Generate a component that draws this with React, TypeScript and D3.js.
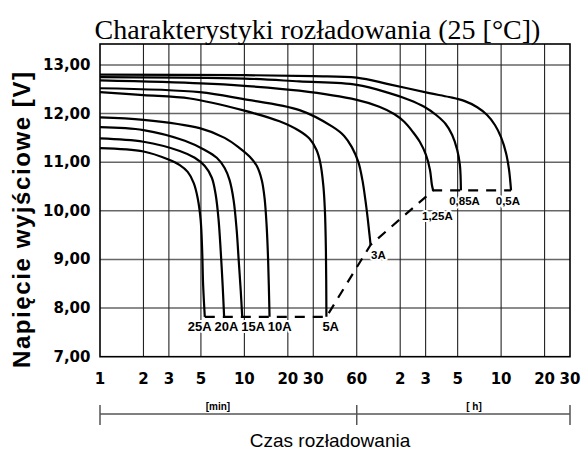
import * as d3 from 'd3'
import React from 'react'

// discharge curves: [time in minutes, voltage]
const currents = ['0,5A', '0,85A', '1,25A', '3A', '5A', '10A', '15A', '20A', '25A']

const c05 = [[1, 12.8], [10, 12.79], [30, 12.77], [60, 12.74], [101, 12.6], [191, 12.42], [262, 12.34], [333, 12.26], [410, 12.13], [480, 11.97], [545, 11.76], [600, 11.51], [650, 11.18], [681, 10.84], [703, 10.42]]
const c085 = [[1, 12.75], [10, 12.72], [24, 12.66], [60, 12.59], [101, 12.42], [139, 12.28], [176, 12.14], [213, 11.97], [247, 11.79], [275, 11.56], [298, 11.25], [311, 10.94], [316, 10.42]]
const c125 = [[1, 12.68], [5, 12.62], [10, 12.57], [24, 12.47], [60, 12.28], [86, 12.14], [109, 11.99], [128, 11.83], [147, 11.62], [164, 11.42], [181, 11.15], [193, 10.84], [199, 10.53], [203, 10.42]]
const c3 = [[1, 12.52], [4.9, 12.44], [9.7, 12.3], [24.1, 12.07], [40.7, 11.73], [49.1, 11.54], [55.5, 11.31], [61.6, 11.0], [65.7, 10.63], [68.9, 10.22], [71.7, 9.81], [73.6, 9.5], [74.8, 9.3]]
const c5 = [[1, 12.44], [2, 12.38], [4.2, 12.31], [9.7, 12.07], [17.5, 11.84], [24.1, 11.64], [28.3, 11.48], [31.6, 11.25], [33.6, 10.98], [35.2, 10.53], [36.1, 10.02], [36.7, 9.19], [37, 7.82]]
const c10 = [[1, 11.92], [2, 11.87], [4.9, 11.7], [7.3, 11.5], [9.27, 11.29], [10.9, 11.11], [12.2, 10.92], [13.2, 10.63], [13.8, 10.26], [14.25, 9.71], [14.6, 8.99], [14.94, 7.82]]
const c15 = [[1, 11.72], [2, 11.66], [3.87, 11.44], [5.32, 11.25], [6.44, 11.09], [7.3, 10.88], [7.9, 10.63], [8.42, 10.22], [8.84, 9.61], [9.13, 8.99], [9.43, 8.37], [9.66, 7.82]]
const c20 = [[1, 11.49], [2, 11.42], [3.57, 11.23], [4.53, 11.09], [5.32, 10.92], [5.95, 10.68], [6.33, 10.33], [6.63, 9.81], [6.85, 9.19], [7.07, 8.47], [7.24, 7.82]]
const c25 = [[1, 11.29], [2, 11.22], [2.95, 11.06], [3.57, 10.94], [4.05, 10.8], [4.46, 10.57], [4.75, 10.26], [4.98, 9.81], [5.1, 9.19], [5.18, 8.47], [5.32, 7.82]]
const curves = [c05, c085, c125, c3, c5, c10, c15, c20, c25]

// end-of-discharge line
const cutoff = [[5.32, 7.82], [37, 7.82], [74.8, 9.3], [203, 10.42], [703, 10.42]]

// label anchors (time, voltage)
const labelTimes = [551, 262, 170, 75.4, 34.7, 14.5, 9.52, 6.22, 4.06]
const labelVolts = [10.12, 10.12, 9.81, 9.01, 7.53, 7.53, 7.53, 7.53, 7.53]

const xTicks = [1, 2, 3, 5, 10, 20, 30, 60, 120, 180, 300, 600, 1200, 1800]
const xTickLabels = ['1', '2', '3', '5', '10', '20', '30', '60', '2', '3', '5', '10', '20', '30']
const yTicks = [7, 8, 9, 10, 11, 12, 13]

export default function App() {
  const width = 583
  const height = 456
  const left = 100, right = 570, top = 44, bottom = 356.7

  const x = d3.scaleLog().domain([1, 1800]).range([left, right])
  const y = d3.scaleLinear().domain([7, 13.43]).range([bottom, top])

  const line = d3.line<number[]>()
    .x((d) => x(d[0]))
    .y((d) => y(d[1]))
    .curve(d3.curveCatmullRom.alpha(0.5))

  const cutLine = d3.line<number[]>().x((d) => x(d[0])).y((d) => y(d[1]))

  const fmt = (v: number) => v.toFixed(2).replace('.', ',')

  return (
    <svg width={width} height={height} style={{ position: 'absolute', left: 0, top: 0, display: 'block', background: '#fff' }}>
      <text x={317.5} y={39} textAnchor="middle" fontFamily="'Liberation Serif', 'Times New Roman', serif" fontSize={28}>
        Charakterystyki rozładowania (25 [°C])
      </text>

      {/* grid */}
      {yTicks.slice(1).map((v) => (
        <line key={'h' + v} x1={left} x2={right} y1={y(v)} y2={y(v)} stroke="#666" strokeWidth={1.5} />
      ))}
      {xTicks.slice(1, -1).map((t) => (
        <line key={'v' + t} x1={x(t)} x2={x(t)} y1={top} y2={bottom} stroke="#222" strokeWidth={1.1} />
      ))}
      <rect x={left} y={top} width={right - left} height={bottom - top} fill="none" stroke="#000" strokeWidth={1.6} />

      {/* curves */}
      {curves.map((c, i) => (
        <path key={currents[i]} d={line(c) || ''} fill="none" stroke="#000" strokeWidth={2.2} strokeLinejoin="round" />
      ))}
      <path d={cutLine(cutoff) || ''} fill="none" stroke="#000" strokeWidth={2.2} strokeDasharray="10,8" />

      {/* curve labels */}
      {currents.map((name, i) => (
        <text key={'l' + name} x={x(labelTimes[i])} y={y(labelVolts[i])}
          fontFamily="'Liberation Sans', Arial, sans-serif" fontWeight="bold"
          fontSize={labelVolts[i] < 8 ? 13 : 11.5}
          stroke="#fff" strokeWidth={4} strokeLinejoin="round" paintOrder="stroke" fill="#000">
          {name}
        </text>
      ))}

      {/* y axis labels */}
      {yTicks.map((v) => (
        <text key={'yl' + v} x={90.5} y={y(v)} textAnchor="end" dominantBaseline="central"
          fontFamily="'DejaVu Sans', Verdana, sans-serif" fontWeight="bold" fontSize={15}>
          {fmt(v)}
        </text>
      ))}

      {/* x axis labels */}
      {xTicks.map((t, i) => (
        <text key={'xl' + t} x={x(t)} y={384} textAnchor="middle"
          fontFamily="'DejaVu Sans', Verdana, sans-serif" fontWeight="bold" fontSize={15}>
          {xTickLabels[i]}
        </text>
      ))}

      <text transform="translate(30,220) rotate(-90)" textAnchor="middle"
        fontFamily="'Liberation Sans', Arial, sans-serif" fontWeight="bold" fontSize={24}
        textLength={296} lengthAdjust="spacing">
        Napięcie wyjściowe  [V]
      </text>

      {/* min / h scale */}
      <line x1={x(1)} x2={x(1800)} y1={414} y2={414} stroke="#000" strokeWidth={1} />
      {[1, 60, 1800].map((t) => (
        <line key={'u' + t} x1={x(t)} x2={x(t)} y1={405} y2={425} stroke="#555" strokeWidth={1.5} />
      ))}
      <text x={218} y={410} textAnchor="middle" fontFamily="'Liberation Sans', Arial, sans-serif" fontWeight="bold" fontSize={10}>[min]</text>
      <text x={474} y={410} textAnchor="middle" fontFamily="'Liberation Sans', Arial, sans-serif" fontWeight="bold" fontSize={10}>[ h]</text>

      <text x={330} y={447} textAnchor="middle" fontFamily="'Liberation Sans', Arial, sans-serif" fontSize={19}>
        Czas rozładowania
      </text>
    </svg>
  )
}
